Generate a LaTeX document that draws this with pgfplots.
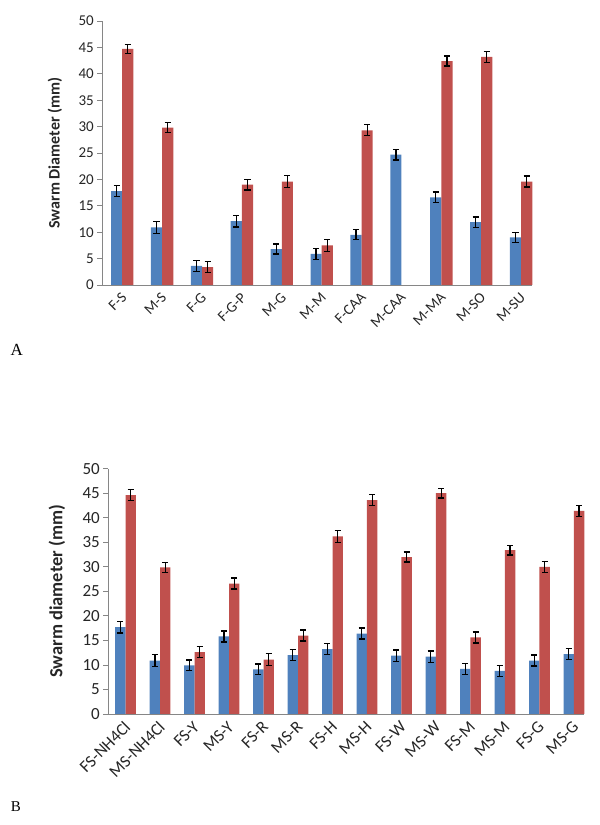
\documentclass[border=0pt]{standalone}
\usepackage{fontspec}
\setmainfont{Carlito}
\newfontfamily\serifL{Liberation Serif}
\usepackage{pgfplots}
\usepackage{pgfplotstable}
\pgfplotsset{compat=1.18}
\definecolor{xblue}{HTML}{4F81BD}
\definecolor{xred}{HTML}{C0504D}
\definecolor{axgray}{HTML}{868686}
\definecolor{txt}{HTML}{262626}

\pgfplotstableread{
x b be r re
0 17.8 1.1 44.7 0.9
1 10.9 1.1 29.8 0.95
2 3.6 1.1 3.4 1.0
3 12.1 1.1 19.0 1.0
4 6.8 0.95 19.6 1.1
5 5.9 1.05 7.5 1.1
6 9.5 0.95 29.3 1.05
7 24.7 1.0 nan nan
8 16.6 1.0 42.4 0.95
9 11.9 1.0 43.2 1.0
10 9.0 1.0 19.6 1.05
}\dataA

\pgfplotstableread{
x b be r re
0 17.7 1.2 44.6 1.15
1 10.9 1.25 29.9 1.05
2 9.9 1.1 12.6 1.1
3 15.8 1.1 26.6 1.1
4 9.1 1.1 11.1 1.2
5 12.0 1.1 16.0 1.1
6 13.2 1.1 36.2 1.2
7 16.4 1.1 43.6 1.1
8 11.9 1.15 32.0 1.0
9 11.7 1.15 45.0 1.0
10 9.2 1.15 15.6 1.1
11 8.8 1.15 33.4 1.0
12 10.9 1.1 30.0 1.1
13 12.2 1.1 41.4 1.1
}\dataB

\pgfplotsset{
  excel/.style={
    scale only axis,
    axis lines*=left,
    axis line style={axgray, line width=0.8bp},
    ymin=0, ymax=50, ytick={0,5,...,50},
    tick align=outside,
    major tick length=5bp, minor tick length=5bp,
    tick style={axgray, line width=0.8bp},
    xtick style={draw=none},
    minor tick style={axgray, line width=0.8bp},
    unbounded coords=discard,
    /pgf/number format/assume math mode=true,
    ybar,
    yticklabel style={color=txt},
    xticklabel style={color=txt, rotate=45, anchor=east, yshift=-5bp, xshift=1bp},
  },
  ebar/.style={
    draw=none,
    error bars/.cd, y dir=both, y explicit,
    error bar style={black, line width=1.3bp},
    error mark options={black, line width=1.3bp, mark size=3.1bp, rotate=90},
  },
}

\begin{document}
\begin{tikzpicture}
\path[use as bounding box] (0bp,0bp) rectangle (600bp,825bp);

% Chart A
\begin{axis}[excel,
  at={(102.3bp,540bp)}, anchor=south west,
  width=430bp, height=264bp,
  xmin=-0.5, xmax=10.28,
  xtick={0,...,10},
  xticklabels={F-S,M-S,F-G,F-G-P,M-G,M-M,F-CAA,M-CAA,M-MA,M-SO,M-SU},
  minor xtick={-0.5,0.5,...,9.5},
  tick label style={font=\fontsize{15bp}{17bp}\selectfont},
  ylabel={\bfseries Swarm Diameter (mm)},
  every axis y label/.style={at={(axis description cs:-0.11,0.5)}, rotate=90, anchor=center,
    font=\fontsize{16bp}{18bp}\selectfont, color=txt},
]
\addplot[fill=xblue, bar width=0.28, bar shift=-0.14, ebar] table[x=x, y=b, y error=be] {\dataA};
\addplot[fill=xred, bar width=0.28, bar shift=0.14, ebar] table[x=x, y=r, y error=re] {\dataA};
\end{axis}

% Chart B
\begin{axis}[excel,
  at={(108.3bp,111bp)}, anchor=south west,
  width=476bp, height=245.3bp,
  xmin=-0.5, xmax=13.3,
  xtick={0,...,13},
  xticklabels={FS-NH4Cl,MS-NH4Cl,FS-Y,MS-Y,FS-R,MS-R,FS-H,MS-H,FS-W,MS-W,FS-M,MS-M,FS-G,MS-G},
  minor xtick={-0.5,0.5,...,12.5},
  tick label style={font=\fontsize{17bp}{19bp}\selectfont},
  ylabel={\bfseries Swarm diameter (mm)},
  every axis y label/.style={at={(axis description cs:-0.108,0.5)}, rotate=90, anchor=center,
    font=\fontsize{18.5bp}{20bp}\selectfont, color=txt},
]
\addplot[fill=xblue, bar width=0.30, bar shift=-0.15, ebar] table[x=x, y=b, y error=be] {\dataB};
\addplot[fill=xred, bar width=0.30, bar shift=0.15, ebar] table[x=x, y=r, y error=re] {\dataB};
\end{axis}

\node[font=\serifL\fontsize{17bp}{19bp}\selectfont, anchor=center] at (16.7bp,475.3bp) {A};
\node[font=\serifL\fontsize{15bp}{17bp}\selectfont, anchor=center] at (16bp,18.3bp) {B};
\end{tikzpicture}
\end{document}
